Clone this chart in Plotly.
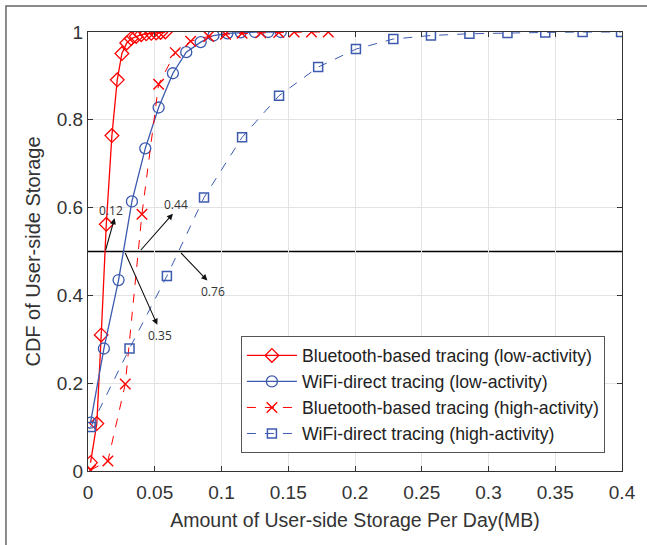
import plotly.graph_objects as go

# ---- data ----
bt_low_x = [0.0019, 0.0066, 0.0099, 0.0137, 0.0179, 0.0219, 0.0254, 0.0290, 0.0324,
            0.0361, 0.0399, 0.0436, 0.0474, 0.0511, 0.0544, 0.0579]
bt_low_y = [0.019, 0.108, 0.310, 0.562, 0.764, 0.891, 0.951, 0.975, 0.985,
            0.990, 0.994, 0.996, 0.997, 0.998, 0.999, 1.000]

wifi_low_x = [0.0019, 0.0119, 0.0229, 0.0329, 0.0429, 0.0529, 0.0636, 0.0736, 0.0844,
              0.0940, 0.1044, 0.1144, 0.1250, 0.1350, 0.1444]
wifi_low_y = [0.110, 0.279, 0.435, 0.614, 0.735, 0.828, 0.906, 0.954, 0.977,
              0.992, 0.997, 0.999, 1.000, 1.000, 1.000]

bt_high_x = [0.0020, 0.0149, 0.0279, 0.0404, 0.0529, 0.0654, 0.0769, 0.0904, 0.1030,
             0.1154, 0.1294, 0.1429, 0.1544, 0.1674, 0.1800]
bt_high_y = [0.002, 0.023, 0.198, 0.585, 0.881, 0.953, 0.979, 0.990, 0.995,
             0.997, 0.998, 0.999, 1.000, 1.000, 1.000]

wifi_high_x = [0.0020, 0.0311, 0.0591, 0.0869, 0.1154, 0.1431, 0.1724, 0.2007, 0.2287,
               0.2569, 0.2857, 0.3142, 0.3425, 0.3705, 0.3993]
wifi_high_y = [0.100, 0.279, 0.444, 0.623, 0.760, 0.855, 0.920, 0.961, 0.984,
               0.992, 0.996, 0.998, 0.999, 1.000, 1.000]

series_names = ["Bluetooth-based tracing (low-activity)",
                "WiFi-direct tracing (low-activity)",
                "Bluetooth-based tracing (high-activity)",
                "WiFi-direct tracing (high-activity)"]

median_level = 0.5
# annotations: label, arrow tail (on median line) x, arrow head x, head y
ann_labels = ["0.12", "0.44", "0.35", "0.76"]
ann_tail_x = [0.0129, 0.0386, 0.0274, 0.0686]
ann_head_x = [0.0199, 0.0636, 0.0519, 0.0894]
ann_head_y = [0.576, 0.586, 0.333, 0.434]
ann_text_x = [0.0174, 0.0662, 0.0536, 0.0936]
ann_text_y = [0.593, 0.607, 0.308, 0.410]

x_ticks = [0, 0.05, 0.1, 0.15, 0.2, 0.25, 0.3, 0.35, 0.4]
x_tick_text = ["0", "0.05", "0.1", "0.15", "0.2", "0.25", "0.3", "0.35", "0.4"]
y_ticks = [0, 0.2, 0.4, 0.6, 0.8, 1]
y_tick_text = ["0", "0.2", "0.4", "0.6", "0.8", "1"]

RED = "#FF0000"
BLUE = "rgb(60,90,175)"
FONT = "Liberation Sans, Arial, sans-serif"

fig = go.Figure()
fig.add_trace(go.Scatter(x=bt_low_x, y=bt_low_y, name=series_names[0], mode="lines+markers",
                         line=dict(color=RED, width=1.3),
                         marker=dict(symbol="diamond-open", size=10.5, color=RED,
                                     line=dict(width=1.3, color=RED))))
fig.add_trace(go.Scatter(x=wifi_low_x, y=wifi_low_y, name=series_names[1], mode="lines+markers",
                         line=dict(color=BLUE, width=1.3),
                         marker=dict(symbol="circle-open", size=11, color=BLUE,
                                     line=dict(width=1.3, color=BLUE))))
fig.add_trace(go.Scatter(x=bt_high_x, y=bt_high_y, name=series_names[2], mode="lines+markers",
                         line=dict(color=RED, width=1, dash="dash"),
                         marker=dict(symbol="x-thin-open", size=10.5, color=RED,
                                     line=dict(width=1.4, color=RED))))
fig.add_trace(go.Scatter(x=wifi_high_x, y=wifi_high_y, name=series_names[3], mode="lines+markers",
                         line=dict(color=BLUE, width=1, dash="dash"),
                         marker=dict(symbol="square-open", size=9, color=BLUE,
                                     line=dict(width=1.5, color=BLUE))))

# median reference line
fig.add_shape(type="line", xref="x", yref="y", x0=x_ticks[0], x1=x_ticks[-1],
              y0=median_level, y1=median_level, line=dict(color="black", width=1.3),
              layer="below")

for lab, tx, hx, hy, lx, ly in zip(ann_labels, ann_tail_x, ann_head_x, ann_head_y,
                                   ann_text_x, ann_text_y):
    fig.add_annotation(x=hx, y=hy, ax=tx, ay=median_level, xref="x", yref="y",
                       axref="x", ayref="y", text="", showarrow=True,
                       arrowhead=2, arrowsize=1.1, arrowwidth=1.1, arrowcolor="#111",
                       standoff=0, startstandoff=0)
    fig.add_annotation(x=lx, y=ly, xref="x", yref="y", text=lab, showarrow=False,
                       font=dict(family="Open Sans, sans-serif", size=12, color="#333"))

# outer figure frame (extends past right/bottom edges as in the reference)
fig.add_shape(type="rect", xref="paper", yref="paper",
              x0=-0.1536, x1=1.08, y0=-0.21, y1=1.0592,
              line=dict(color="#666", width=1.5), fillcolor="rgba(0,0,0,0)")

axis_common = dict(showgrid=True, gridcolor="#E3E3E3", gridwidth=1,
                   showline=True, linecolor="#333", linewidth=1.2, mirror="ticks",
                   ticks="inside", ticklen=5, tickcolor="#333", zeroline=False,
                   tickfont=dict(family=FONT, size=19, color="#333"))

fig.update_xaxes(range=[0, 0.4], tickvals=x_ticks, ticktext=x_tick_text,
                 ticklabelstandoff=4,
                 title=dict(text="Amount of User-side Storage Per Day(MB)",
                            font=dict(family=FONT, size=19.5, color="#333"), standoff=11),
                 **axis_common)
fig.update_yaxes(range=[0, 1], tickvals=y_ticks, ticktext=y_tick_text,
                 title=dict(text="CDF of User-side Storage",
                            font=dict(family=FONT, size=20, color="#333"), standoff=10),
                 **axis_common)

fig.update_layout(
    width=647, height=545,
    margin=dict(l=88, r=25, t=32, b=74),
    paper_bgcolor="white", plot_bgcolor="white",
    showlegend=True,
    legend=dict(x=0.968, y=0.04, xanchor="right", yanchor="bottom",
                bgcolor="white", bordercolor="#555", borderwidth=1,
                font=dict(family=FONT, size=17.7, color="#222"),
                itemwidth=50, tracegroupgap=0),
)

fig.write_html("out.html", config={"displayModeBar": False},
               post_script="document.body.style.margin='0';")
